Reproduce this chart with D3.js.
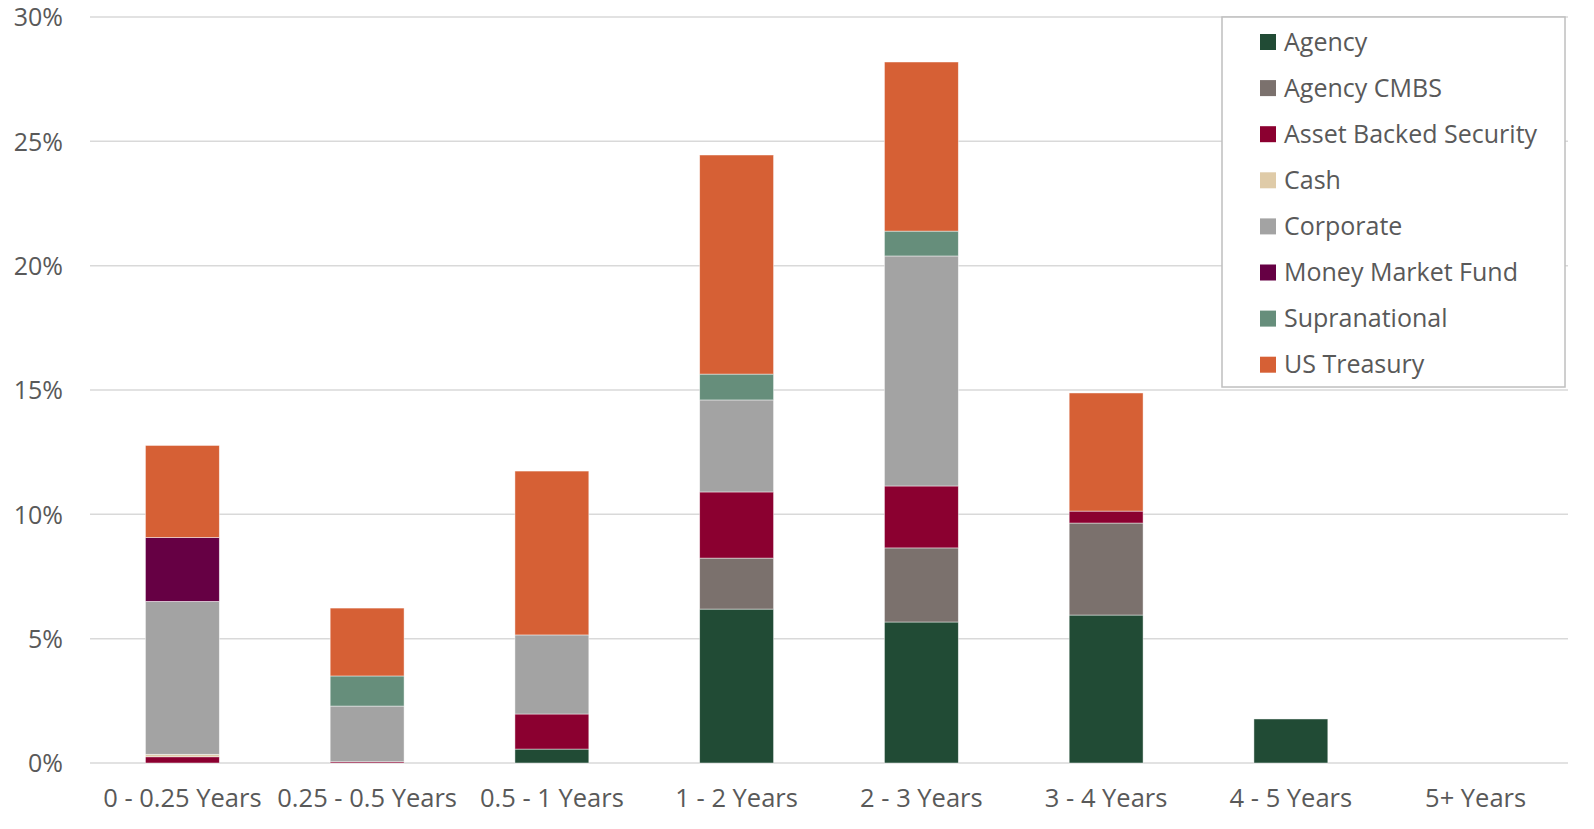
<!DOCTYPE html>
<html>
<head>
<meta charset="utf-8">
<script src="https://cdn.jsdelivr.net/npm/d3@7"></script>
<style>
  html, body { margin: 0; padding: 0; background: #fff; overflow: hidden; }
  svg { display: block; }
  text { font-family: "Open Sans", "Noto Sans", sans-serif; fill: #595959; }
</style>
</head>
<body>
<div id="chart"></div>
<script>
// maturity buckets
var buckets = ["0 - 0.25 Years", "0.25 - 0.5 Years", "0.5 - 1 Years", "1 - 2 Years",
               "2 - 3 Years", "3 - 4 Years", "4 - 5 Years", "5+ Years"];

var sectors = ["Agency", "Agency CMBS", "Asset Backed Security", "Cash",
               "Corporate", "Money Market Fund", "Supranational", "US Treasury"];

var sectorColors = ["#214b35", "#7b716d", "#8b0030", "#dfcba8",
                    "#a3a3a3", "#660044", "#668e7b", "#d66035"];

// percent of portfolio, one array per sector (same order as buckets)
var agency        = [0,    0,    0.56, 6.19, 5.67, 5.95, 1.77, 0];
var agencyCmbs    = [0,    0,    0,    2.05, 2.98, 3.70, 0,    0];
var abs           = [0.25, 0.05, 1.41, 2.66, 2.49, 0.48, 0,    0];
var cash          = [0.10, 0,    0,    0,    0,    0,    0,    0];
var corporate     = [6.15, 2.24, 3.18, 3.70, 9.25, 0,    0,    0];
var moneyMarket   = [2.57, 0,    0,    0,    0,    0,    0,    0];
var supranational = [0,    1.21, 0,    1.04, 1.00, 0,    0,    0];
var usTreasury    = [3.70, 2.73, 6.59, 8.81, 6.80, 4.75, 0,    0];

var yTicks = [0, 5, 10, 15, 20, 25, 30];

var seriesValues = [agency, agencyCmbs, abs, cash, corporate, moneyMarket, supranational, usTreasury];

var width = 1594, height = 829;
var plotLeft = 90, plotRight = 1568, plotTop = 17, plotBottom = 763;

var rows = buckets.map(function(b, i) {
  var r = { bucket: b };
  sectors.forEach(function(s, j) { r[s] = seriesValues[j][i]; });
  return r;
});

var stacked = d3.stack().keys(sectors)(rows);

var x = d3.scaleBand()
    .domain(buckets)
    .range([plotLeft, plotRight])
    .paddingInner(0.6)
    .paddingOuter(0.3);

var y = d3.scaleLinear()
    .domain([0, 30])
    .range([plotBottom, plotTop]);

var color = d3.scaleOrdinal().domain(sectors).range(sectorColors);

var svg = d3.select("#chart").append("svg")
    .attr("width", width)
    .attr("height", height);

// gridlines
svg.append("g")
  .selectAll("line")
  .data(yTicks)
  .enter().append("line")
    .attr("x1", plotLeft)
    .attr("x2", plotRight)
    .attr("y1", function(d) { return y(d); })
    .attr("y2", function(d) { return y(d); })
    .style("stroke", "#d9d9d9")
    .style("stroke-width", 1.5);

// y axis labels
var yAxis = d3.axisLeft(y)
    .tickValues(yTicks)
    .tickFormat(function(d) { return d + "%"; })
    .tickSize(0)
    .tickPadding(27);

svg.append("g")
    .attr("transform", "translate(" + plotLeft + ",0)")
    .call(yAxis)
    .call(function(g) { g.select(".domain").remove(); })
    .selectAll("text")
      .style("font-size", "25px")
      .attr("dy", "0.35em")
      .style("fill", "#595959")
      .style("font-family", "'Open Sans', sans-serif");

// x axis labels
var xAxis = d3.axisBottom(x).tickSize(0).tickPadding(26);

svg.append("g")
    .attr("transform", "translate(0," + plotBottom + ")")
    .call(xAxis)
    .call(function(g) { g.select(".domain").remove(); })
    .selectAll("text")
      .style("font-size", "25.5px")
      .style("fill", "#595959")
      .style("font-family", "'Open Sans', sans-serif");

// stacked bars
svg.append("g")
  .selectAll("g")
  .data(stacked)
  .enter().append("g")
    .style("fill", function(d) { return color(d.key); })
  .selectAll("rect")
  .data(function(d) { return d; })
  .enter().append("rect")
    .filter(function(d) { return d[1] - d[0] > 0; })
    .attr("x", function(d) { return x(d.data.bucket); })
    .attr("width", x.bandwidth())
    .attr("y", function(d) { return y(d[1]); })
    .attr("height", function(d) { return y(d[0]) - y(d[1]); })
    .style("stroke", "#ffffff")
    .style("stroke-opacity", 0.6)
    .style("stroke-width", 0.75);

// legend
var legend = svg.append("g").attr("transform", "translate(1222,17)");

legend.append("rect")
    .attr("width", 343)
    .attr("height", 370)
    .style("fill", "#fff")
    .style("stroke", "#bfbfbf")
    .style("stroke-width", 1.5);

var item = legend.selectAll("g.item")
    .data(sectors)
  .enter().append("g")
    .attr("class", "item")
    .attr("transform", function(d, i) { return "translate(38," + (25 + i * 46.1) + ")"; });

item.append("rect")
    .attr("y", -8)
    .attr("width", 16)
    .attr("height", 16)
    .style("fill", function(d) { return color(d); });

item.append("text")
    .attr("x", 24)
    .attr("dy", "0.35em")
    .style("font-size", "25px")
    .text(function(d) { return d; });
</script>
</body>
</html>
